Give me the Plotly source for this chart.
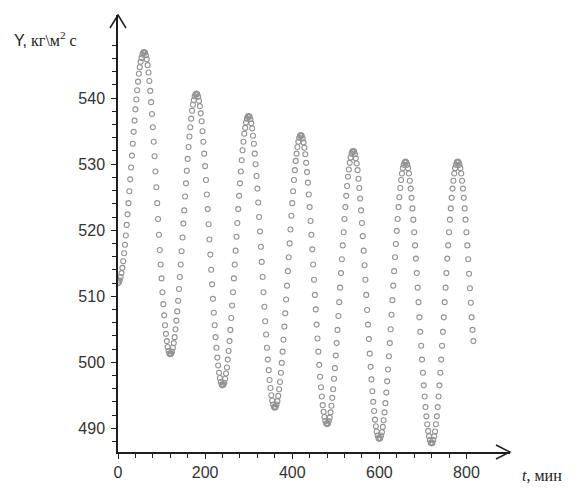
import plotly.graph_objects as go

# Mass flux Y (kg/m^2 s) sampled every 2 minutes, one list per 120-minute cycle
y_cycle_1 = [512.0, 512.1, 512.4, 512.9, 513.5, 514.3, 515.3, 516.5, 517.8, 519.2,
             520.8, 522.4, 524.1, 525.9, 527.7, 529.5, 531.3, 533.1, 534.9, 536.6,
             538.3, 539.8, 541.2, 542.5, 543.7, 544.7, 545.5, 546.1, 546.6, 546.9,
             547.0,
             546.9, 546.5, 545.9, 545.0, 543.9, 542.6, 541.1, 539.4, 537.6, 535.6,
             533.4, 531.2, 528.9, 526.5, 524.1, 521.7, 519.3, 517.0, 514.8, 512.7,
             510.6, 508.8, 507.1, 505.6, 504.3, 503.2, 502.3, 501.7, 501.3]
y_cycle_2 = [501.2,
             501.3, 501.6, 502.2, 502.9, 503.8, 505.0, 506.3, 507.7, 509.3, 511.1,
             512.9, 514.8, 516.8, 518.9, 521.0, 523.0, 525.1, 527.1, 529.0, 530.8,
             532.6, 534.2, 535.6, 536.9, 538.1, 539.0, 539.7, 540.3, 540.6, 540.7,
             540.6, 540.2, 539.6, 538.8, 537.7, 536.5, 535.0, 533.4, 531.6, 529.7,
             527.6, 525.4, 523.2, 520.9, 518.6, 516.3, 514.0, 511.8, 509.6, 507.5,
             505.6, 503.8, 502.2, 500.7, 499.5, 498.4, 497.6, 497.0, 496.6]
y_cycle_3 = [496.5,
             496.6, 496.9, 497.5, 498.3, 499.2, 500.4, 501.7, 503.2, 504.9, 506.7,
             508.6, 510.6, 512.7, 514.8, 516.9, 519.0, 521.1, 523.2, 525.2, 527.1,
             528.9, 530.6, 532.1, 533.4, 534.6, 535.5, 536.3, 536.9, 537.2, 537.3,
             537.2, 536.8, 536.2, 535.4, 534.3, 533.1, 531.6, 530.0, 528.2, 526.3,
             524.2, 522.0, 519.8, 517.5, 515.2, 512.9, 510.6, 508.4, 506.2, 504.2,
             502.2, 500.4, 498.8, 497.3, 496.1, 495.0, 494.2, 493.6, 493.2]
y_cycle_4 = [493.1,
             493.2, 493.6, 494.1, 494.9, 495.9, 497.0, 498.4, 499.9, 501.6, 503.4,
             505.4, 507.4, 509.5, 511.6, 513.8, 515.9, 518.0, 520.1, 522.2, 524.1,
             525.9, 527.6, 529.1, 530.5, 531.6, 532.6, 533.4, 534.0, 534.3, 534.4,
             534.3, 533.9, 533.3, 532.5, 531.5, 530.2, 528.8, 527.2, 525.4, 523.5,
             521.4, 519.3, 517.1, 514.8, 512.5, 510.2, 508.0, 505.7, 503.6, 501.6,
             499.6, 497.8, 496.2, 494.8, 493.5, 492.5, 491.7, 491.1, 490.7]
y_cycle_5 = [490.6,
             490.7, 491.1, 491.6, 492.4, 493.4, 494.6, 495.9, 497.5, 499.1, 501.0,
             502.9, 504.9, 507.0, 509.1, 511.3, 513.5, 515.6, 517.7, 519.7, 521.7,
             523.5, 525.2, 526.7, 528.1, 529.2, 530.2, 531.0, 531.6, 531.9, 532.0,
             531.9, 531.5, 530.9, 530.1, 529.1, 527.8, 526.4, 524.8, 523.0, 521.1,
             519.1, 516.9, 514.7, 512.5, 510.2, 507.9, 505.7, 503.5, 501.3, 499.3,
             497.4, 495.6, 494.0, 492.6, 491.3, 490.3, 489.5, 488.9, 488.5]
y_cycle_6 = [488.4,
             488.5, 488.9, 489.4, 490.2, 491.2, 492.4, 493.8, 495.4, 497.1, 498.9,
             500.9, 502.9, 505.0, 507.2, 509.4, 511.6, 513.8, 515.9, 517.9, 519.9,
             521.7, 523.5, 525.0, 526.4, 527.6, 528.6, 529.4, 529.9, 530.3, 530.4,
             530.3, 529.9, 529.4, 528.6, 527.5, 526.3, 524.9, 523.3, 521.6, 519.7,
             517.7, 515.7, 513.5, 511.3, 509.1, 506.8, 504.6, 502.5, 500.4, 498.4,
             496.5, 494.8, 493.2, 491.8, 490.6, 489.6, 488.8, 488.2, 487.8]
y_cycle_7 = [487.7,
             487.8, 488.2, 488.8, 489.5, 490.6, 491.8, 493.2, 494.8, 496.5, 498.4,
             500.4, 502.5, 504.6, 506.8, 509.1, 511.3, 513.5, 515.7, 517.7, 519.7,
             521.6, 523.3, 524.9, 526.3, 527.5, 528.6, 529.4, 529.9, 530.3, 530.4,
             530.3, 529.9, 529.4, 528.6, 527.5, 526.3, 524.9, 523.3, 521.6, 519.7,
             517.7, 515.6, 513.4, 511.2, 509.0, 506.8, 504.9, 503.2]

y_values = (y_cycle_1 + y_cycle_2 + y_cycle_3 + y_cycle_4 +
            y_cycle_5 + y_cycle_6 + y_cycle_7)
t_minutes = list(range(0, 2 * len(y_values), 2))

x_major_ticks = [0, 200, 400, 600, 800]
x_minor_ticks = list(range(0, 801, 40))
y_major_ticks = [490, 500, 510, 520, 530, 540]
y_minor_ticks = list(range(488, 549, 2))

axis_color = "#1e1e1e"
tick_font = dict(family="Liberation Sans, Arial, sans-serif", size=16, color="#333333")

fig = go.Figure()
fig.add_trace(go.Scatter(
    x=t_minutes, y=y_values, mode="markers",
    marker=dict(symbol="circle-open", size=5, color="#939393",
                line=dict(width=1.1, color="#939393")),
    hoverinfo="x+y", showlegend=False,
))

fig.update_layout(
    width=578, height=492,
    margin=dict(l=118, r=68, t=15, b=40),
    paper_bgcolor="white", plot_bgcolor="white",
    xaxis=dict(
        range=[0, 900], showgrid=False, zeroline=False,
        showline=True, linecolor=axis_color, linewidth=1.5,
        tickmode="array", tickvals=x_major_ticks,
        ticks="outside", ticklen=5, tickwidth=1.3, tickcolor=axis_color,
        tickfont=tick_font,
        minor=dict(tickmode="array", tickvals=x_minor_ticks, ticks="outside",
                   ticklen=4, tickwidth=1.2, tickcolor=axis_color),
    ),
    yaxis=dict(
        range=[486.4, 552.6], showgrid=False, zeroline=False,
        showline=True, linecolor=axis_color, linewidth=1.5,
        tickmode="array", tickvals=y_major_ticks,
        ticks="outside", ticklen=5, tickwidth=1.3, tickcolor=axis_color,
        tickfont=tick_font, ticklabelstandoff=3,
        minor=dict(tickmode="array", tickvals=y_minor_ticks, ticks="outside",
                   ticklen=4, tickwidth=1.2, tickcolor=axis_color),
    ),
)

# open arrowheads at the ends of both axes
arrow_line = dict(color=axis_color, width=1.5)
fig.add_shape(type="path", xref="paper", yref="paper",
              xsizemode="pixel", ysizemode="pixel", xanchor=1, yanchor=0,
              path="M -14,7 L 0,0 L -14,-7", line=arrow_line)
fig.add_shape(type="path", xref="paper", yref="paper",
              xsizemode="pixel", ysizemode="pixel", xanchor=0, yanchor=1,
              path="M -8,-13 L 0,0 L 8,-13", line=arrow_line)

# axis titles
fig.add_annotation(
    xref="paper", yref="paper", x=-0.27, y=0.945, xanchor="left", yanchor="middle",
    showarrow=False,
    text='<span style="font-family:Liberation Sans">Y,</span> кг\\м<sup>2</sup> с',
    font=dict(family="Liberation Serif, Times New Roman, serif", size=16, color="#222222"),
)
fig.add_annotation(
    xref="paper", yref="paper", x=1.025, y=-0.053, xanchor="left", yanchor="middle",
    showarrow=False,
    text="<i>t</i>, мин",
    font=dict(family="Liberation Serif, Times New Roman, serif", size=16, color="#222222"),
)

fig.write_html("out.html")
